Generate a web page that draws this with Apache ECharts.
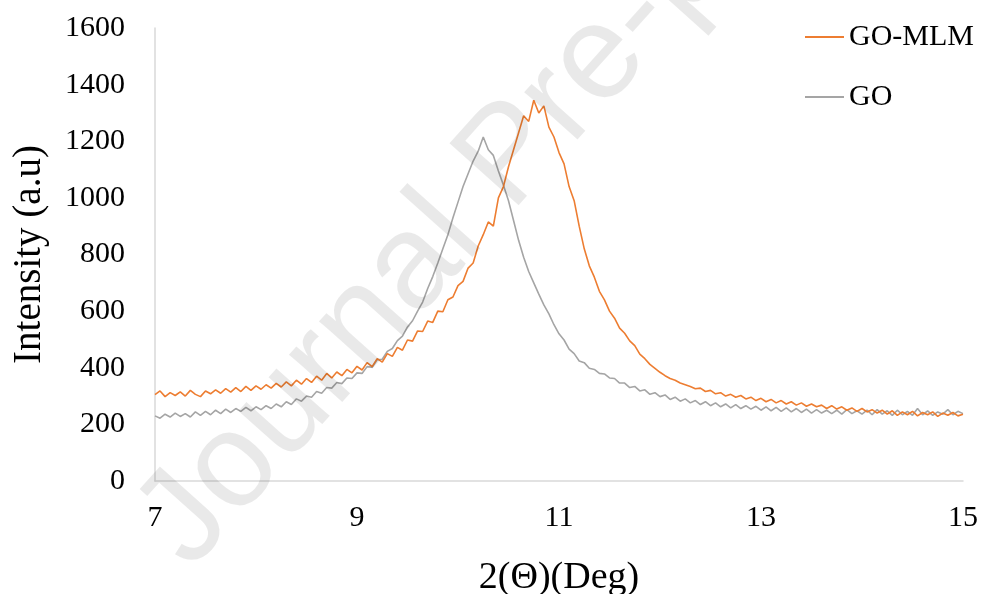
<!DOCTYPE html>
<html>
<head>
<meta charset="utf-8">
<script src="https://cdn.jsdelivr.net/npm/echarts@6/dist/echarts.min.js"></script>
<style>
    html, body { margin: 0; padding: 0; background: #fff; }
    #chart { width: 985px; height: 594px; }
</style>
</head>
<body>
<div id="chart"></div>
<script>
// 2θ (deg) sample positions
const theta = [
    7.00, 7.05, 7.10, 7.15, 7.20, 7.25, 7.30, 7.35, 7.40, 7.45,
    7.50, 7.55, 7.60, 7.65, 7.70, 7.75, 7.80, 7.85, 7.90, 7.95,
    8.00, 8.05, 8.10, 8.15, 8.20, 8.25, 8.30, 8.35, 8.40, 8.45,
    8.50, 8.55, 8.60, 8.65, 8.70, 8.75, 8.80, 8.85, 8.90, 8.95,
    9.00, 9.05, 9.10, 9.15, 9.20, 9.25, 9.30, 9.35, 9.40, 9.45,
    9.50, 9.55, 9.60, 9.65, 9.70, 9.75, 9.80, 9.85, 9.90, 9.95,
    10.00, 10.05, 10.10, 10.15, 10.20, 10.25, 10.30, 10.35, 10.40, 10.45,
    10.50, 10.55, 10.60, 10.65, 10.70, 10.75, 10.80, 10.85, 10.90, 10.95,
    11.00, 11.05, 11.10, 11.15, 11.20, 11.25, 11.30, 11.35, 11.40, 11.45,
    11.50, 11.55, 11.60, 11.65, 11.70, 11.75, 11.80, 11.85, 11.90, 11.95,
    12.00, 12.05, 12.10, 12.15, 12.20, 12.25, 12.30, 12.35, 12.40, 12.45,
    12.50, 12.55, 12.60, 12.65, 12.70, 12.75, 12.80, 12.85, 12.90, 12.95,
    13.00, 13.05, 13.10, 13.15, 13.20, 13.25, 13.30, 13.35, 13.40, 13.45,
    13.50, 13.55, 13.60, 13.65, 13.70, 13.75, 13.80, 13.85, 13.90, 13.95,
    14.00, 14.05, 14.10, 14.15, 14.20, 14.25, 14.30, 14.35, 14.40, 14.45,
    14.50, 14.55, 14.60, 14.65, 14.70, 14.75, 14.80, 14.85, 14.90, 14.95,
    15.00
]

// GO-MLM intensity (orange)
const goMlm = [
    305, 318, 298, 312, 302, 315, 300, 320, 306, 298,
    318, 308, 322, 310, 326, 314, 330, 316, 334, 320,
    336, 324, 340, 328, 345, 332, 350, 336, 356, 342,
    362, 348, 370, 356, 380, 364, 385, 372, 394, 382,
    405, 392, 418, 404, 432, 420, 450, 440, 472, 462,
    498, 494, 530, 528, 565, 560, 600, 598, 640, 650,
    690, 705, 752, 770, 830, 870, 915, 900, 1000, 1040,
    1110, 1170, 1230, 1290, 1270, 1345, 1300, 1325, 1250, 1215,
    1160, 1120, 1040, 990, 900, 820, 760, 720, 670, 640,
    600, 575, 540, 522, 495, 478, 448, 432, 412, 398,
    384, 372, 362, 356, 346, 340, 334, 326, 328, 316,
    320, 308, 312, 300, 306, 296, 302, 290, 296, 284,
    292, 280, 288, 276, 284, 272, 280, 268, 276, 264,
    272, 262, 268, 256, 266, 254, 262, 250, 258, 246,
    256, 244, 252, 240, 250, 236, 248, 232, 244, 234,
    246, 230, 242, 234, 244, 228, 240, 232, 242, 230,
    236
]

// GO intensity (gray)
const go = [
    230, 222, 236, 226, 240, 228, 238, 226, 244, 232,
    246, 234, 250, 238, 254, 242, 256, 246, 260, 248,
    262, 252, 266, 256, 272, 262, 280, 270, 290, 282,
    300, 296, 316, 310, 330, 328, 348, 344, 364, 362,
    382, 380, 404, 402, 428, 430, 458, 468, 496, 512,
    544, 566, 600, 632, 680, 722, 770, 820, 870, 930,
    985, 1040, 1085, 1130, 1165, 1215, 1170, 1150, 1095, 1045,
    990, 920, 850, 790, 740, 700, 660, 622, 590, 552,
    520, 498, 466, 450, 424, 418, 398, 394, 380, 378,
    364, 362, 346, 346, 330, 334, 318, 322, 306, 312,
    298, 304, 288, 296, 282, 290, 276, 284, 270, 280,
    266, 276, 262, 272, 258, 270, 256, 266, 254, 264,
    250, 262, 248, 260, 246, 258, 244, 256, 242, 254,
    240, 252, 240, 250, 238, 250, 236, 252, 238, 248,
    236, 250, 234, 252, 236, 248, 232, 250, 234, 246,
    232, 256, 234, 248, 232, 244, 236, 252, 234, 246,
    238
]

const seriesNames = ['GO-MLM', 'GO']
const yTicks = { min: 0, max: 1600, interval: 200 }

const serif = '"Liberation Serif", "Times New Roman", serif'
const chart = echarts.init(document.getElementById('chart'))

const option = {
    animation: false,
    backgroundColor: '#fff',
    grid: { left: 155, right: 22, top: 28, bottom: 113, outerBoundsMode: 'none' },
    legend: {
        data: seriesNames,
        orient: 'vertical',
        left: 800,
        top: 17,
        icon: 'rect',
        itemWidth: 39,
        itemHeight: 2,
        itemGap: 30,
        textStyle: { fontFamily: serif, fontSize: 30, color: '#000' }
    },
    xAxis: {
        type: 'category',
        data: theta,
        boundaryGap: false,
        name: '2(Θ)(Deg)',
        nameLocation: 'middle',
        nameGap: 78,
        nameMoveOverlap: false,
        nameTextStyle: { fontFamily: serif, fontSize: 38, color: '#000' },
        axisLine: { lineStyle: { color: '#d9d9d9', width: 1.5 } },
        axisTick: { show: false },
        axisLabel: {
            interval: 39,
            margin: 22,
            fontFamily: serif,
            fontSize: 30,
            color: '#000'
        },
        splitLine: { show: false }
    },
    yAxis: {
        type: 'value',
        min: yTicks.min,
        max: yTicks.max,
        interval: yTicks.interval,
        name: 'Intensity (a.u)',
        nameLocation: 'middle',
        nameGap: 106,
        nameMoveOverlap: false,
        nameTextStyle: { fontFamily: serif, fontSize: 39, color: '#000' },
        axisLine: { show: true, lineStyle: { color: '#d9d9d9', width: 1.5 } },
        axisTick: { show: false },
        axisLabel: {
            margin: 30,
            fontFamily: serif,
            fontSize: 30,
            color: '#000',
            formatter: v => String(v)
        },
        splitLine: { show: false }
    },
    series: [
        {
            name: seriesNames[0],
            type: 'line',
            data: goMlm,
            symbol: 'none',
            lineStyle: { color: '#ED7D31', width: 1.6 },
            itemStyle: { color: '#ED7D31' },
            z: 3
        },
        {
            name: seriesNames[1],
            type: 'line',
            data: go,
            symbol: 'none',
            lineStyle: { color: '#A5A5A5', width: 1.6 },
            itemStyle: { color: '#A5A5A5' },
            z: 2
        }
    ],
    // "Journal Pre-proof" watermark over the figure
    graphic: [
        {
            type: 'text',
            x: 511,
            y: 158,
            rotation: 0.84,
            z: 100,
            silent: true,
            style: {
                text: 'Journal Pre-proof',
                x: 0,
                y: 0,
                align: 'center',
                verticalAlign: 'middle',
                fontFamily: '"Liberation Sans", Arial, sans-serif',
                fontSize: 135,
                fill: 'rgba(0,0,0,0.085)'
            }
        }
    ]
}

chart.setOption(option)
</script>
</body>
</html>
